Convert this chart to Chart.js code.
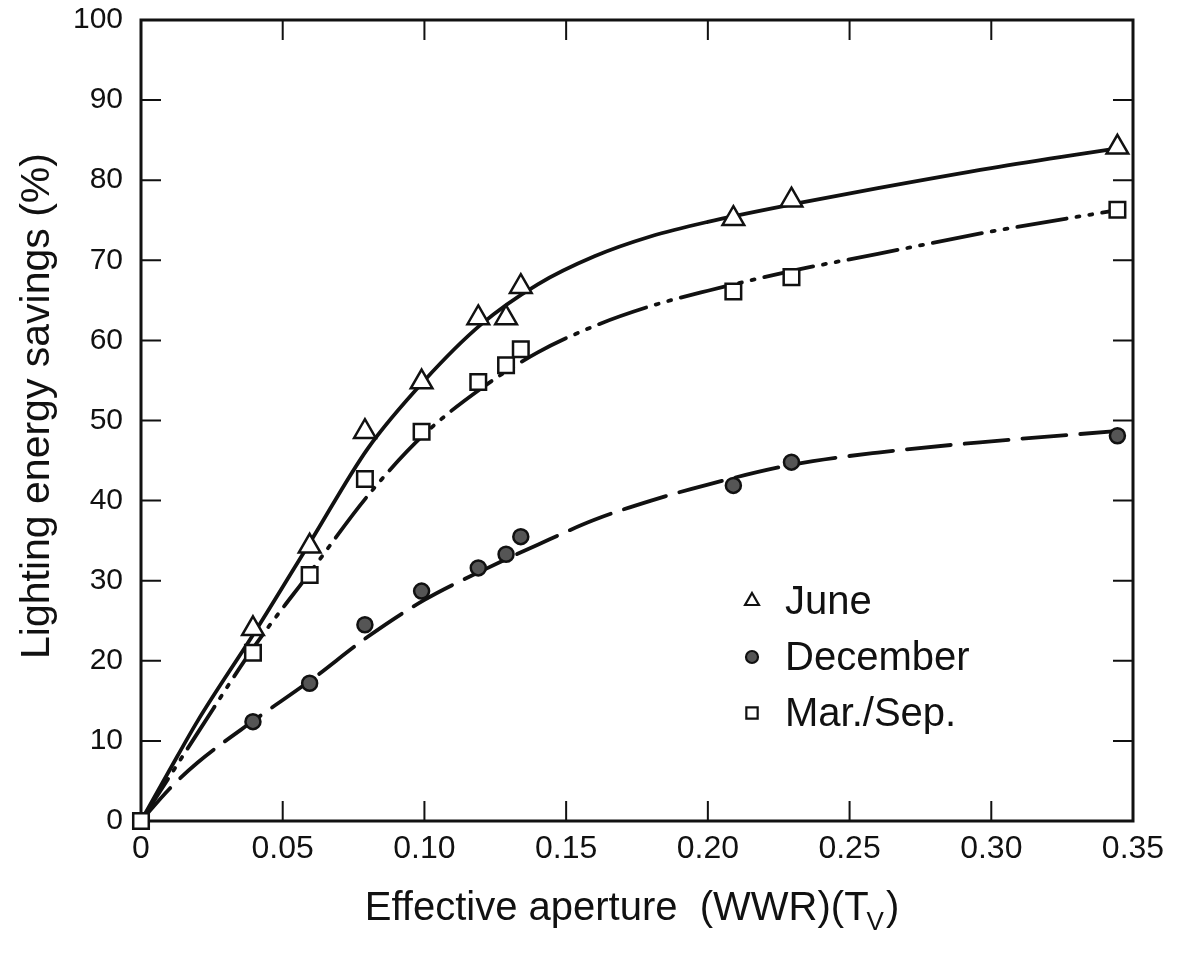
<!DOCTYPE html>
<html>
<head>
<meta charset="utf-8">
<script src="https://cdn.jsdelivr.net/npm/chart.js@4.4.1/dist/chart.umd.min.js"></script>
<style>
  html, body { margin: 0; padding: 0; background: #fff; }
  #wrap { width: 1178px; height: 958px; position: relative; }
</style>
</head>
<body>
<div id="wrap"><canvas id="chart" width="1178" height="958"></canvas></div>
<script>
// Axis ticks
const xTickValues = [0, 0.05, 0.10, 0.15, 0.20, 0.25, 0.30, 0.35];
const xTickLabels = ['0', '0.05', '0.10', '0.15', '0.20', '0.25', '0.30', '0.35'];
const yTickValues = [0, 10, 20, 30, 40, 50, 60, 70, 80, 90, 100];

const seriesNames = ['June', 'December', 'Mar./Sep.'];

const juneX = [0.0395, 0.0595, 0.079, 0.099, 0.119, 0.1288, 0.134, 0.209, 0.2295, 0.3445];
const juneY = [24.0, 34.3, 48.6, 54.8, 62.8, 62.8, 66.7, 75.2, 77.5, 84.1];

const decX = [0.0395, 0.0595, 0.079, 0.099, 0.119, 0.1288, 0.134, 0.209, 0.2295, 0.3445];
const decY = [12.4, 17.2, 24.5, 28.7, 31.6, 33.3, 35.5, 41.9, 44.8, 48.1];

const marX = [0, 0.0395, 0.0595, 0.079, 0.099, 0.119, 0.1288, 0.134, 0.209, 0.2295, 0.3445];
const marY = [0, 21.0, 30.7, 42.7, 48.6, 54.8, 56.9, 58.9, 66.1, 67.9, 76.3];

// Fitted curves
const curveX = [0, 0.01, 0.02, 0.04, 0.06, 0.08, 0.10, 0.12, 0.14, 0.16, 0.18, 0.20, 0.23, 0.26, 0.30, 0.345];
const juneCurveY = [0, 6.3, 12.5, 23.5, 35.0, 46.5, 55.0, 62.0, 67.0, 70.5, 73.0, 74.8, 77.0, 79.0, 81.5, 84.0];
const decCurveY = [0, 4.0, 7.3, 12.6, 17.6, 23.0, 27.6, 31.2, 34.5, 37.6, 40.0, 42.0, 44.5, 46.0, 47.4, 48.7];
const marCurveY = [0, 5.5, 11.0, 21.8, 31.2, 40.6, 48.3, 54.0, 58.5, 61.8, 64.3, 66.2, 68.7, 70.8, 73.6, 76.3];

const xTitle = 'Effective aperture  (WWR)(T';
const xTitleSub = 'V';
const xTitleEnd = ')';
const yTitle = 'Lighting energy savings (%)';

const INK = '#111';
const FONT = '"Liberation Sans", Arial, Helvetica, sans-serif';

function pts(xs, ys) {
    return xs.map((x, i) => ({ x: x, y: ys[i] }));
}

function curve(ys, dash) {
    return {
        data: pts(curveX, ys),
        showLine: true,
        borderColor: INK,
        borderWidth: 3.8,
        borderDash: dash,
        borderCapStyle: 'round',
        pointRadius: 0,
        cubicInterpolationMode: 'monotone',
        fill: false,
        order: 2,
        clip: false
    };
}

function markers(name, xs, ys, style, radius, fillColor) {
    return {
        label: name,
        isMarker: true,
        data: pts(xs, ys),
        showLine: false,
        pointStyle: style,
        pointRadius: radius,
        pointBorderWidth: 2.5,
        pointBorderColor: INK,
        pointBackgroundColor: fillColor,
        order: 1,
        clip: false
    };
}

const datasets = [
    markers(seriesNames[0], juneX, juneY, 'triangle', 12.5, '#fff'),
    markers(seriesNames[1], decX, decY, 'circle', 7.5, '#555'),
    markers(seriesNames[2], marX, marY, 'rect', 11, '#fff'),
    curve(juneCurveY, []),
    curve(decCurveY, [44, 14]),
    curve(marCurveY, [50, 10, 3, 10, 3, 10])
];

// frame + inward ticks on all four sides, titles, legend
const framePlugin = {
    id: 'frame',
    beforeDatasetsDraw(chart) {
        const { ctx, chartArea: a, scales: { x, y } } = chart;
        ctx.save();
        ctx.strokeStyle = INK;
        ctx.lineWidth = 3;
        ctx.strokeRect(a.left, a.top, a.right - a.left, a.bottom - a.top);
        ctx.lineWidth = 2;
        ctx.beginPath();
        xTickValues.slice(1, -1).forEach(v => {
            const px = x.getPixelForValue(v);
            ctx.moveTo(px, a.bottom); ctx.lineTo(px, a.bottom - 20);
            ctx.moveTo(px, a.top); ctx.lineTo(px, a.top + 20);
        });
        yTickValues.slice(1, -1).forEach(v => {
            const py = y.getPixelForValue(v);
            ctx.moveTo(a.left, py); ctx.lineTo(a.left + 20, py);
            ctx.moveTo(a.right, py); ctx.lineTo(a.right - 20, py);
        });
        ctx.stroke();
        ctx.restore();
    },
    afterDraw(chart) {
        const { ctx } = chart;
        ctx.save();
        ctx.fillStyle = INK;
        ctx.textBaseline = 'alphabetic';

        // x title with subscript
        ctx.font = '40px ' + FONT;
        const w1 = ctx.measureText(xTitle).width;
        const w3 = ctx.measureText(xTitleEnd).width;
        ctx.font = '26px ' + FONT;
        const w2 = ctx.measureText(xTitleSub).width;
        let tx = 632 - (w1 + w2 + w3) / 2;
        const ty = 920;
        ctx.textAlign = 'left';
        ctx.font = '40px ' + FONT;
        ctx.fillText(xTitle, tx, ty);
        ctx.font = '26px ' + FONT;
        ctx.fillText(xTitleSub, tx + w1 - 2, ty + 10);
        ctx.font = '40px ' + FONT;
        ctx.fillText(xTitleEnd, tx + w1 + w2, ty);

        // y title
        ctx.font = '41px ' + FONT;
        ctx.translate(49, 406);
        ctx.rotate(-Math.PI / 2);
        ctx.textAlign = 'center';
        ctx.fillText(yTitle, 0, 0);
        ctx.restore();

        // legend inside the plot
        ctx.save();
        const items = chart.data.datasets.filter(d => d.isMarker);
        const lx = 752, ly0 = 601, dy = 56;
        items.forEach((d, i) => {
            const yy = ly0 + i * dy;
            ctx.fillStyle = d.pointBackgroundColor;
            ctx.strokeStyle = d.pointBorderColor;
            ctx.lineWidth = 2.2;
            Chart.helpers.drawPoint(ctx, {
                pointStyle: d.pointStyle,
                radius: d.pointStyle === 'circle' ? 6 : 8,
                borderWidth: 2.2,
                rotation: 0
            }, lx, yy);
            ctx.fillStyle = INK;
            ctx.font = '40px ' + FONT;
            ctx.textAlign = 'left';
            ctx.textBaseline = 'middle';
            ctx.fillText(d.label, lx + 33, yy + 2);
        });
        ctx.restore();
    }
};

new Chart(document.getElementById('chart').getContext('2d'), {
    type: 'scatter',
    data: { datasets: datasets },
    options: {
        responsive: false,
        animation: false,
        devicePixelRatio: 1,
        layout: { padding: { left: 0, right: 45, top: 20, bottom: 0 } },
        plugins: {
            legend: { display: false },
            tooltip: { enabled: false }
        },
        scales: {
            x: {
                type: 'linear',
                min: 0,
                max: 0.35,
                afterBuildTicks: s => { s.ticks = xTickValues.map(v => ({ value: v })); },
                afterFit: s => { s.height = 137; s.paddingLeft = 0; s.paddingRight = 0; },
                grid: { display: false, drawTicks: false },
                border: { display: false },
                ticks: {
                    color: INK,
                    padding: 9,
                    maxRotation: 0,
                    font: { size: 32, family: FONT },
                    callback: v => xTickLabels[xTickValues.indexOf(v)]
                }
            },
            y: {
                type: 'linear',
                min: 0,
                max: 100,
                afterBuildTicks: s => { s.ticks = yTickValues.map(v => ({ value: v })); },
                afterFit: s => { s.width = 141; s.paddingTop = 0; s.paddingBottom = 0; },
                grid: { display: false, drawTicks: false },
                border: { display: false },
                ticks: {
                    color: INK,
                    padding: 18,
                    font: { size: 30, family: FONT }
                }
            }
        }
    },
    plugins: [framePlugin]
});
</script>
</body>
</html>
